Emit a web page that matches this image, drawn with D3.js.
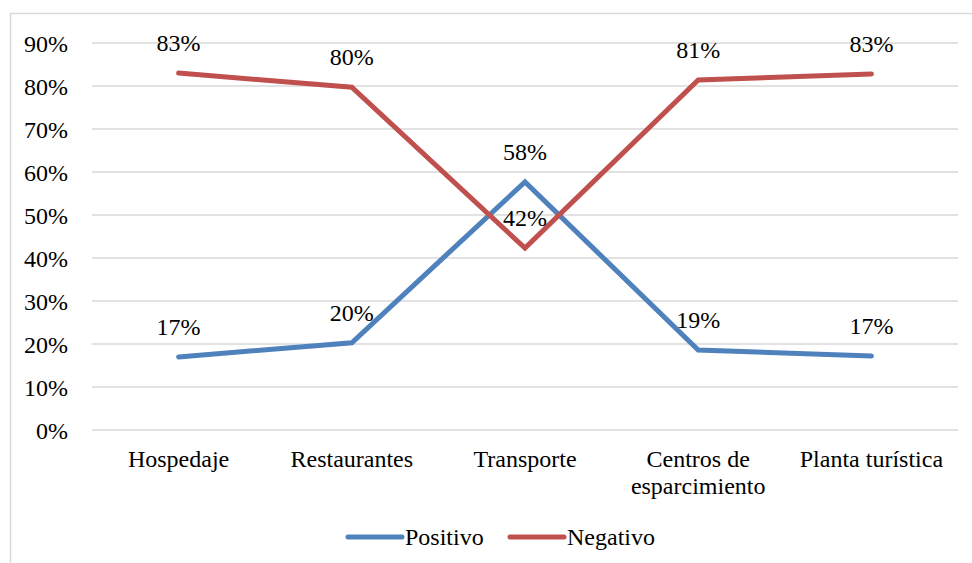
<!DOCTYPE html>
<html>
<head>
<meta charset="utf-8">
<script src="https://cdnjs.cloudflare.com/ajax/libs/d3/7.8.5/d3.min.js"></script>
<style>
  body { margin: 0; background: #fff; }
  svg text { font-family: "Liberation Serif", "Times New Roman", serif !important; fill: #000; }
</style>
</head>
<body>
<div id="chart"></div>
<script>
var categories = [["Hospedaje"], ["Restaurantes"], ["Transporte"], ["Centros de", "esparcimiento"], ["Planta turística"]]
var positivo = [17.0, 20.3, 57.7, 18.6, 17.2]
var negativo = [83.0, 79.7, 42.3, 81.4, 82.8]
var yTicks = [0, 10, 20, 30, 40, 50, 60, 70, 80, 90]

var width = 972, height = 563
var fs = 24
var serif = '"Liberation Serif", "Times New Roman", serif'

var svg = d3.select('#chart').append('svg').attr('width', width).attr('height', height)
  .attr('font-family', serif)

// outer frame (runs off the right / bottom edge)
svg.append('rect').attr('x', 10.5).attr('y', 13.5).attr('width', 1000).attr('height', 600)
  .attr('fill', 'none').attr('stroke', '#d9d9d9').attr('stroke-width', 1.5)

var x = d3.scaleBand().domain(d3.range(categories.length)).range([92, 958])
var y = d3.scaleLinear().domain([0, 90]).range([430, 43])

// gridlines
svg.append('g').selectAll('line').data(yTicks).join('line')
  .attr('x1', 92).attr('x2', 958)
  .attr('y1', d => y(d)).attr('y2', d => y(d))
  .attr('stroke', '#d9d9d9').attr('stroke-width', 1.5)

// y axis labels
var yAxis = svg.append('g').attr('transform', 'translate(68,0)')
  .call(d3.axisLeft(y).tickValues(yTicks).tickFormat(d => d + '%').tickSize(0).tickPadding(0))
yAxis.attr('font-family', serif).attr('font-size', null)
yAxis.select('.domain').remove()
yAxis.selectAll('text').style('font-size', fs + 'px').style('font-family', serif).attr('dy', '0.34em')

// x labels
var xl = svg.append('g').selectAll('text').data(categories).join('text')
  .attr('x', (d, i) => x(i) + x.bandwidth() / 2)
  .attr('y', 466.5)
  .attr('text-anchor', 'middle')
  .style('font-size', fs + 'px').style('font-family', serif)
xl.selectAll('tspan').data(d => d).join('tspan')
  .attr('x', function() { return d3.select(this.parentNode).attr('x') })
  .attr('dy', (d, i) => i == 0 ? 0 : 27)
  .text(d => d)

var cx = i => x(i) + x.bandwidth() / 2
var line = d3.line().x((d, i) => cx(i)).y(d => y(d))

var series = [
  {name: 'Positivo', values: positivo, color: '#4f81bd'},
  {name: 'Negativo', values: negativo, color: '#c0504d'}
]

series.forEach(function(s) {
  svg.append('path').datum(s.values).attr('d', line)
    .attr('fill', 'none').attr('stroke', s.color).attr('stroke-width', 5)
    .attr('stroke-linecap', 'round').attr('stroke-linejoin', 'miter')
})

series.forEach(function(s) {
  svg.append('g').selectAll('text').data(s.values).join('text')
    .attr('x', (d, i) => cx(i))
    .attr('y', d => y(d) - 22)
    .attr('text-anchor', 'middle')
    .style('font-size', fs + 'px').style('font-family', serif)
    .text(d => Math.round(d) + '%')
})

// legend
var legX = [348, 510]
series.forEach(function(s, i) {
  svg.append('line').attr('x1', legX[i]).attr('x2', legX[i] + 54).attr('y1', 537).attr('y2', 537)
    .attr('stroke', s.color).attr('stroke-width', 5).attr('stroke-linecap', 'round')
  svg.append('text').attr('x', legX[i] + 57).attr('y', 545).style('font-size', fs + 'px').style('font-family', serif).text(s.name)
})
</script>
</body>
</html>
